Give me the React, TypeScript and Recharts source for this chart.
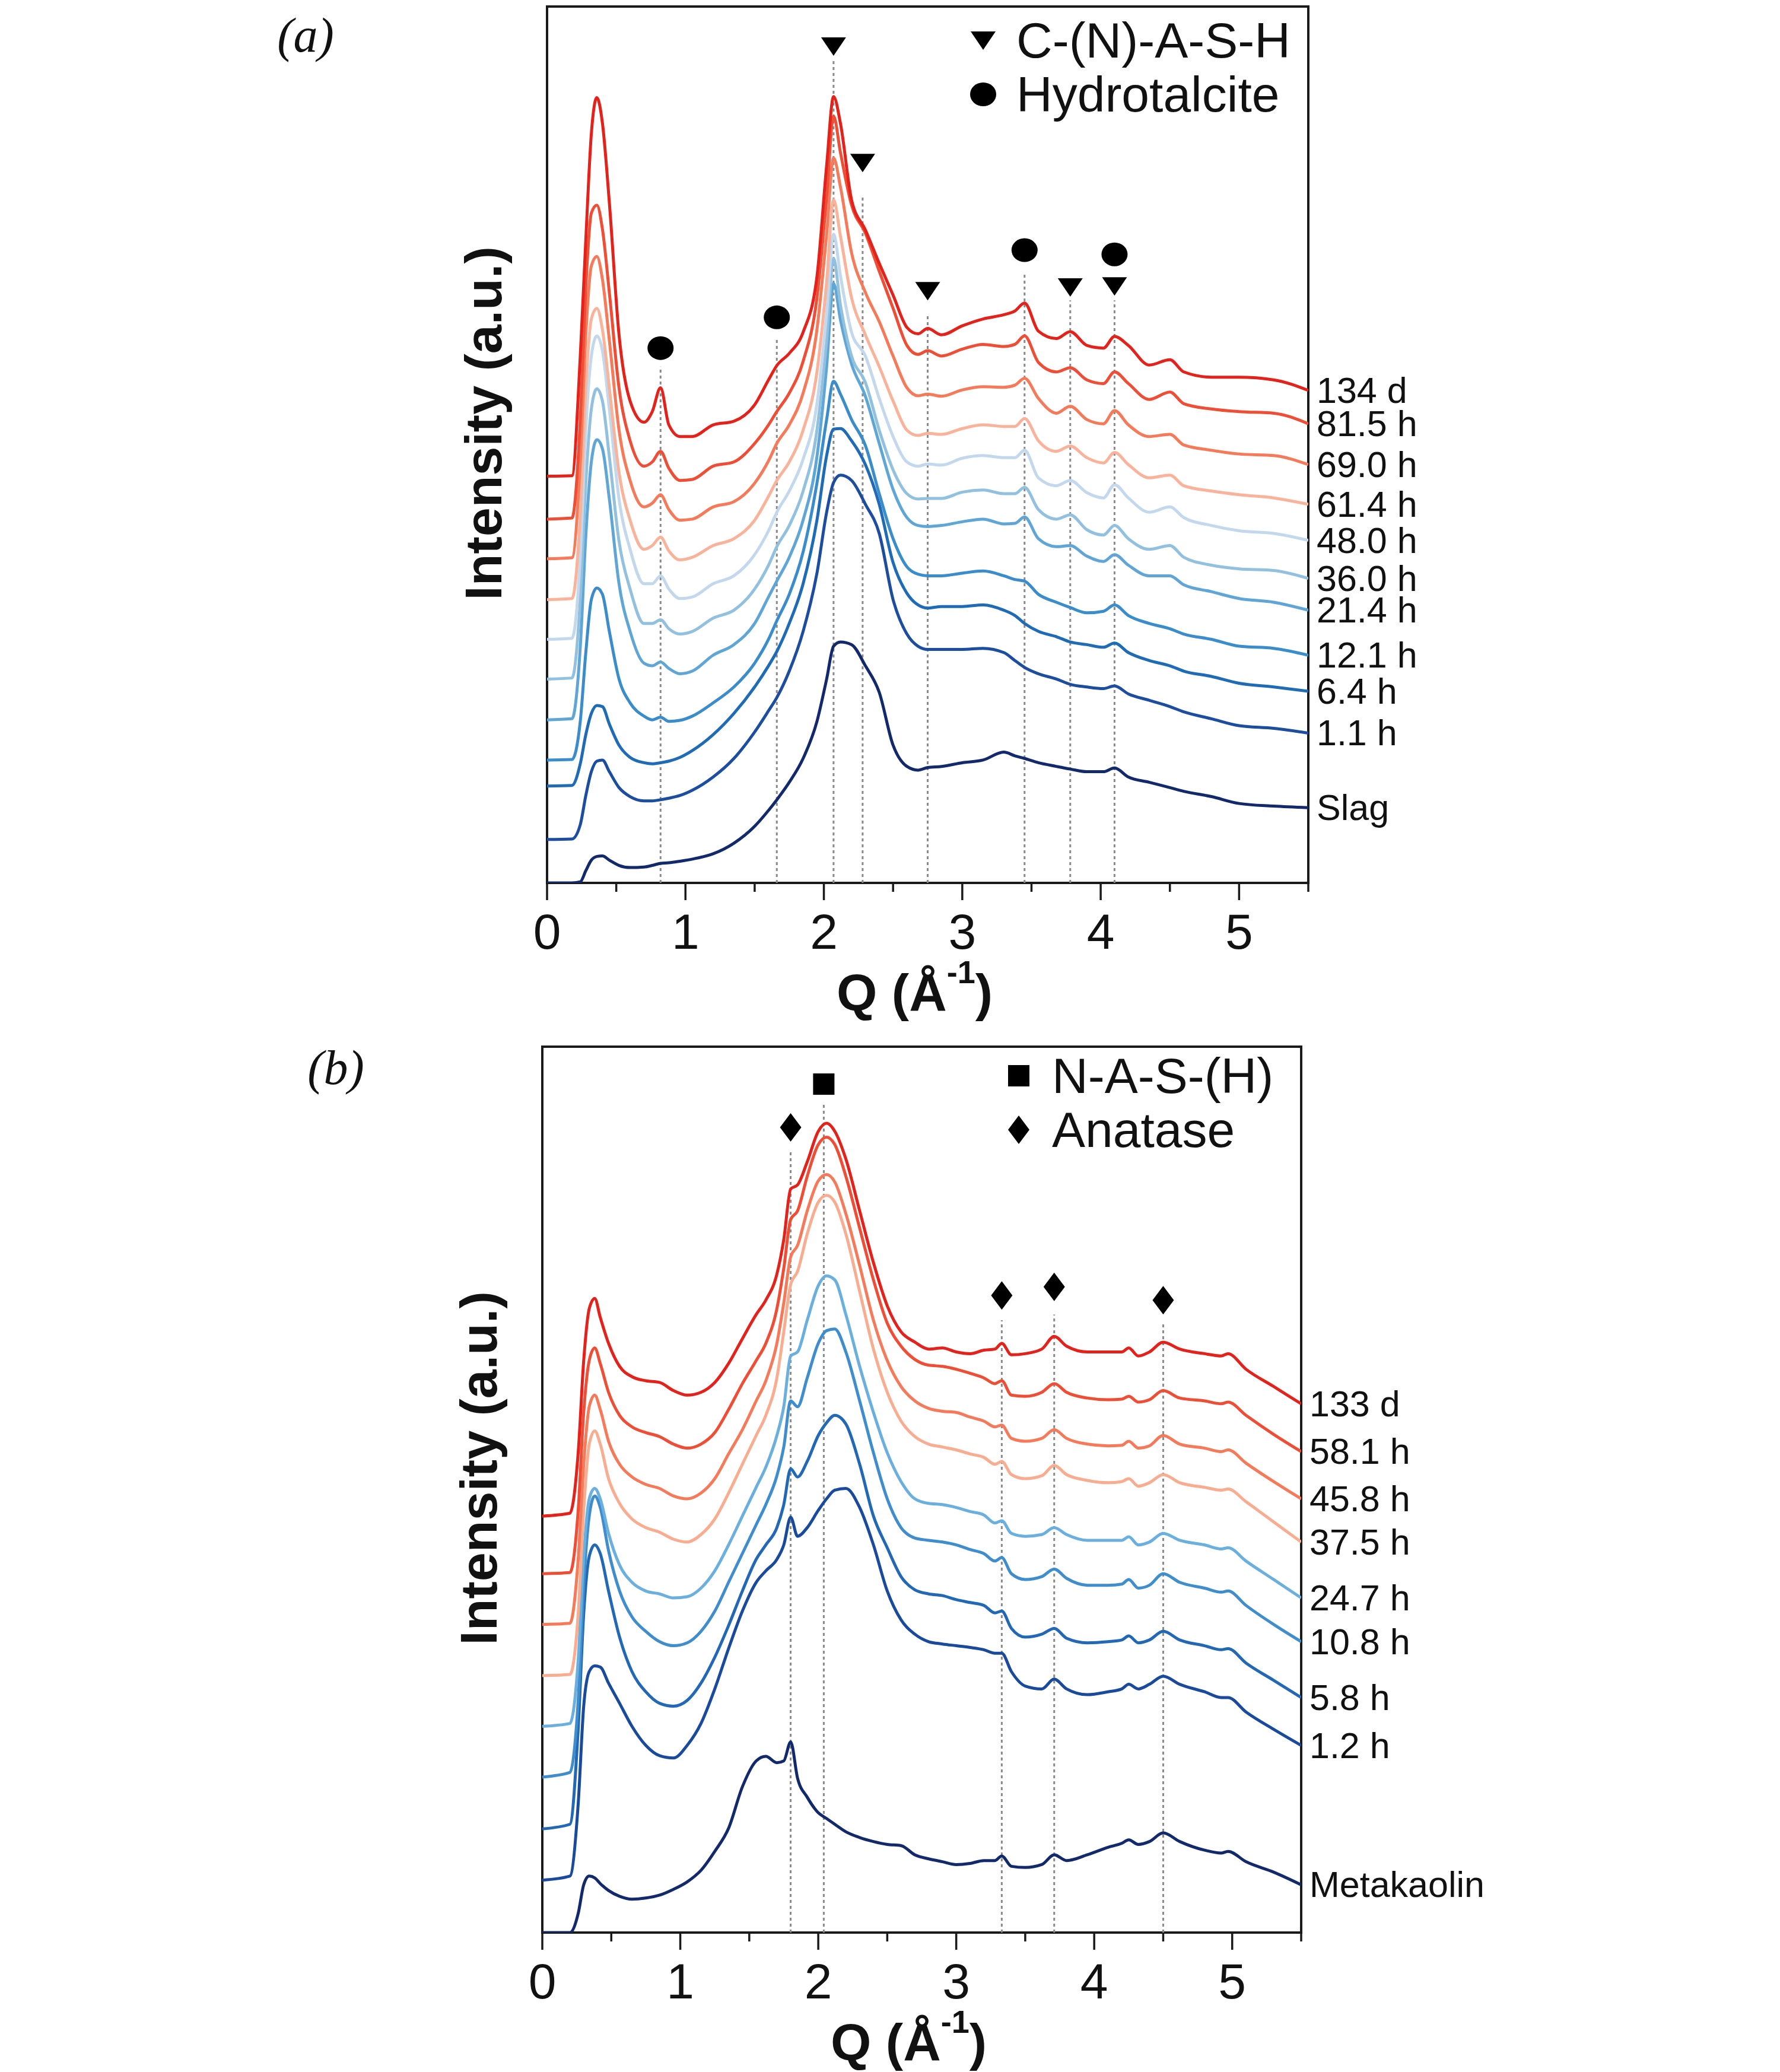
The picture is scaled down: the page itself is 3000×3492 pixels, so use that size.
import React from "react"
import { ComposedChart, Line, XAxis, YAxis, ReferenceLine, ReferenceDot, ReferenceArea, Legend } from "recharts"

const FONT = "'Liberation Sans', Arial, sans-serif"

// ---------- panel (a): slag ----------
const Q_A = [
  0, 0.18, 0.24, 0.28, 0.32, 0.36, 0.4, 0.45, 0.52, 0.6, 0.7, 0.76, 0.82, 0.88, 0.96, 1.05, 1.2, 1.35, 1.5, 1.6,
  1.66, 1.75, 1.85, 1.95, 2.02, 2.07, 2.12, 2.2, 2.3, 2.4, 2.5, 2.6, 2.68, 2.75, 2.85, 3.0, 3.15, 3.3, 3.38, 3.45,
  3.55, 3.68, 3.78, 3.9, 4.02, 4.1, 4.2, 4.35, 4.5, 4.6, 4.8, 5.0, 5.25, 5.5,
]
const A_134D = [
  768, 769, 995, 1215, 1415, 1483, 1435, 1285, 1035, 910, 870, 890, 935, 865, 843, 843, 865, 872, 903, 950,
  977, 1000, 1040, 1145, 1355, 1485, 1434, 1290, 1233, 1170, 1110, 1049, 1037, 1047, 1035, 1052, 1065, 1073, 1080, 1095,
  1042, 1028, 1041, 1015, 1010, 1032, 1015, 978, 988, 965, 955, 955, 950, 930,
]
const A_81H = [
  687, 689, 875, 1125, 1265, 1280, 1235, 1115, 935, 835, 787, 795, 815, 783, 760, 762, 787, 795, 830, 865,
  890, 925, 985, 1105, 1295, 1448, 1379, 1280, 1227, 1155, 1085, 1015, 998, 1005, 995, 1008, 1017, 1013, 1017, 1033,
  983, 965, 973, 950, 943, 965, 943, 913, 927, 905, 895, 890, 887, 867,
]
const A_69H = [
  612, 614, 795, 1035, 1165, 1183, 1140, 1025, 855, 760, 710, 717, 733, 705, 685, 687, 710, 720, 755, 797,
  830, 865, 925, 1045, 1225, 1369, 1314, 1190, 1115, 1060, 995, 935, 920, 923, 919, 931, 937, 936, 940, 953,
  915, 887, 900, 875, 867, 892, 865, 843, 847, 827, 817, 810, 807, 790,
]
const A_61H = [
  535, 537, 695, 935, 1065, 1085, 1045, 935, 775, 685, 630, 637, 653, 627, 610, 615, 637, 650, 685, 730,
  760, 795, 855, 965, 1135, 1290, 1221, 1105, 1035, 975, 910, 855, 845, 849, 847, 858, 865, 862, 862, 877,
  835, 815, 825, 803, 793, 813, 790, 765, 770, 750, 740, 733, 727, 715,
]
const A_48H = [
  460, 462, 615, 855, 995, 1033, 1005, 895, 725, 630, 565, 565, 580, 555, 537, 540, 565, 580, 620, 665,
  700, 740, 800, 905, 1075, 1225, 1146, 1040, 995, 915, 843, 795, 787, 791, 789, 802, 807, 803, 803, 817,
  765, 750, 760, 737, 727, 752, 727, 700, 710, 690, 675, 665, 660, 647,
]
const A_36H = [
  385, 387, 535, 755, 895, 933, 910, 805, 645, 555, 490, 490, 497, 480, 470, 475, 500, 515, 555, 600,
  635, 675, 740, 855, 1025, 1179, 1091, 995, 945, 855, 780, 735, 725, 726, 726, 738, 742, 735, 735, 747,
  705, 687, 695, 667, 657, 675, 650, 630, 637, 615, 600, 593, 590, 575,
]
const A_21H = [
  308, 310, 445, 655, 795, 837, 820, 725, 565, 475, 415, 410, 417, 405, 395, 400, 430, 450, 490, 540,
  570, 615, 685, 805, 975, 1132, 1063, 980, 919, 830, 743, 690, 675, 673, 675, 682, 687, 678, 679, 691,
  650, 635, 637, 617, 607, 620, 600, 580, 580, 563, 550, 537, 530, 515,
]
const A_12H = [
  232, 233, 305, 435, 535, 557, 545, 475, 385, 340, 315, 308, 313, 305, 307, 315, 340, 370, 415, 460,
  495, 545, 625, 755, 875, 947, 923, 875, 826, 735, 650, 597, 583, 580, 580, 585, 589, 580, 573, 570,
  545, 530, 520, 510, 513, 525, 505, 490, 480, 470, 460, 447, 443, 430,
]
const A_6H = [
  183, 184, 225, 280, 320, 335, 333, 300, 260, 237, 227, 225, 227, 230, 237, 250, 280, 320, 370, 410,
  437, 490, 565, 685, 807, 857, 858, 835, 790, 715, 605, 547, 525, 519, 522, 522, 525, 515, 505, 490,
  475, 465, 455, 450, 445, 453, 435, 420, 410, 400, 390, 377, 370, 362,
]
const A_1H = [
  82, 83, 110, 165, 210, 230, 232, 210, 180, 163, 155, 155, 157, 160, 165, 175, 200, 235, 285, 325,
  350, 400, 475, 585, 700, 756, 770, 760, 715, 660, 535, 470, 447, 441, 441, 441, 443, 435, 420, 407,
  395, 385, 375, 370, 367, 372, 357, 345, 333, 323, 310, 297, 292, 283,
]
const A_SLAG = [
  0, 0, 2, 23, 43, 50, 51, 43, 33, 29, 30, 33, 37, 38, 41, 45, 55, 75, 107, 137,
  157, 190, 235, 305, 385, 447, 455, 450, 410, 360, 260, 220, 213, 218, 220, 227, 232, 247, 240, 235,
  227, 220, 215, 210, 210, 217, 200, 190, 180, 173, 163, 150, 145, 142,
]

// ---------- panel (b): metakaolin ----------
const Q_B = [
  0, 0.2, 0.26, 0.3, 0.34, 0.38, 0.42, 0.48, 0.56, 0.65, 0.75, 0.85, 0.95, 1.05, 1.15, 1.25, 1.35, 1.45, 1.55, 1.62,
  1.7, 1.75, 1.8, 1.85, 1.92, 2.0, 2.06, 2.12, 2.2, 2.3, 2.4, 2.5, 2.6, 2.7, 2.8, 2.9, 3.0, 3.1, 3.2, 3.28,
  3.33, 3.4, 3.5, 3.62, 3.71, 3.8, 3.95, 4.1, 4.2, 4.25, 4.32, 4.4, 4.5, 4.62, 4.8, 4.92, 4.97, 5.1, 5.3, 5.5,
]
const B_133D = [
  723, 728, 833, 993, 1083, 1101, 1068, 1023, 983, 965, 958, 955, 941, 933, 938, 955, 988, 1031, 1073, 1098,
  1143, 1203, 1291, 1298, 1338, 1391, 1405, 1391, 1343, 1253, 1163, 1088, 1043, 1025, 1013, 1015, 1008, 1005, 1011, 1013,
  1023, 1003, 1005, 1013, 1035, 1018, 1008, 1008, 1008, 1015, 1001, 1008, 1025, 1013, 1005, 1001, 1005, 978, 948, 918,
]
const B_58H = [
  623, 625, 733, 903, 993, 1015, 988, 938, 898, 878, 868, 861, 848, 841, 848, 868, 908, 953, 993, 1023,
  1083, 1153, 1238, 1253, 1313, 1368, 1381, 1368, 1313, 1223, 1133, 1058, 1018, 995, 985, 983, 978, 971, 963, 953,
  958, 933, 931, 938, 953, 938, 928, 925, 926, 931, 921, 925, 941, 928, 923, 918, 921, 898, 865, 835,
]
const B_45H = [
  535, 537, 648, 813, 913, 933, 908, 853, 813, 791, 778, 771, 758, 753, 763, 788, 831, 873, 923, 958,
  1023, 1093, 1173, 1193, 1253, 1305, 1316, 1303, 1248, 1158, 1063, 993, 948, 923, 910, 905, 903, 895, 888, 878,
  881, 858, 853, 858, 873, 858, 848, 845, 846, 853, 841, 845, 863, 848, 841, 835, 838, 815, 783, 753,
]
const B_37H = [
  446, 448, 553, 733, 848, 871, 848, 788, 745, 718, 703, 695, 683, 678, 691, 718, 763, 813, 863, 898,
  963, 1043, 1125, 1148, 1213, 1268, 1280, 1268, 1213, 1113, 1013, 938, 888, 861, 848, 843, 838, 831, 825, 813,
  818, 795, 788, 793, 811, 795, 785, 781, 783, 788, 775, 781, 795, 781, 773, 768, 770, 748, 713, 678,
]
const B_24H = [
  358, 363, 473, 653, 753, 771, 753, 693, 638, 608, 593, 588, 581, 583, 598, 628, 673, 723, 773, 808,
  863, 913, 1001, 1008, 1063, 1123, 1140, 1133, 1073, 983, 903, 833, 783, 753, 745, 743, 738, 731, 725, 711,
  715, 693, 688, 691, 703, 691, 681, 681, 681, 687, 673, 678, 693, 681, 673, 666, 668, 645, 613, 581,
]
const B_10H = [
  270, 278, 403, 603, 723, 758, 738, 663, 593, 548, 523, 505, 498, 503, 523, 558, 608, 658, 708, 743,
  793, 843, 923, 913, 963, 1023, 1045, 1048, 1008, 923, 833, 753, 703, 685, 681, 678, 673, 665, 658, 645,
  651, 623, 613, 618, 631, 615, 603, 603, 605, 613, 598, 603, 623, 608, 598, 591, 593, 568, 535, 505,
]
const B_5H = [
  180, 188, 353, 553, 653, 673, 658, 593, 513, 453, 418, 398, 393, 403, 433, 478, 533, 593, 648, 673,
  703, 743, 805, 791, 818, 863, 885, 898, 883, 813, 723, 668, 618, 595, 588, 585, 578, 573, 568, 555,
  558, 528, 513, 518, 528, 511, 503, 505, 508, 515, 503, 508, 523, 508, 498, 491, 493, 468, 438, 408,
]
const B_1H = [
  91, 98, 223, 393, 453, 463, 461, 433, 398, 358, 325, 307, 303, 325, 363, 423, 493, 558, 608, 628,
  648, 673, 721, 688, 703, 733, 753, 768, 771, 738, 673, 593, 543, 518, 505, 501, 498, 495, 491, 485,
  485, 453, 428, 423, 440, 423, 413, 418, 423, 431, 423, 431, 445, 431, 418, 408, 408, 383, 353, 325,
]
const B_MK = [
  0, 0, 33, 83, 98, 95, 85, 73, 63, 58, 60, 65, 75, 88, 108, 141, 181, 253, 298, 306,
  295, 298, 331, 268, 235, 208, 198, 188, 175, 165, 158, 153, 151, 135, 128, 123, 118, 120, 125, 125,
  133, 115, 113, 118, 135, 125, 135, 148, 155, 161, 153, 158, 173, 158, 143, 138, 141, 123, 105, 83,
]

const LABELS_A = ["Slag", "1.1 h", "6.4 h", "12.1 h", "21.4 h", "36.0 h", "48.0 h", "61.4 h", "69.0 h", "81.5 h", "134 d"]
const VALUES_A = [A_SLAG, A_1H, A_6H, A_12H, A_21H, A_36H, A_48H, A_61H, A_69H, A_81H, A_134D]
const COLORS_A = ["#12296b", "#1c4d9e", "#1f6bb5", "#3b8ccb", "#5fa5d6", "#92c0df", "#c3d8ec", "#f9b39a", "#f57a5a", "#ef4e36", "#e3221b"]

const LABELS_B = ["Metakaolin", "1.2 h", "5.8 h", "10.8 h", "24.7 h", "37.5 h", "45.8 h", "58.1 h", "133 d"]
const VALUES_B = [B_MK, B_1H, B_5H, B_10H, B_24H, B_37H, B_45H, B_58H, B_133D]
const COLORS_B = ["#12296b", "#1a4a9c", "#2368b4", "#3f8dcc", "#6aafde", "#f9ad90", "#f57a5a", "#ef4e36", "#e3221b"]

// reflection positions (Q) and the marker heights above them
const GUIDES_A = [
  { q: 0.82, top: 975 }, { q: 1.66, top: 1030 }, { q: 2.07, top: 1555 }, { q: 2.28, top: 1295 },
  { q: 2.75, top: 1075 }, { q: 3.45, top: 1150 }, { q: 3.78, top: 1100 }, { q: 4.1, top: 1100 },
]
const MARKS_A = [
  { q: 0.82, level: 1010, kind: "circle" }, { q: 1.66, level: 1068, kind: "circle" },
  { q: 2.07, level: 1580, kind: "tri" }, { q: 2.28, level: 1360, kind: "tri" },
  { q: 2.75, level: 1118, kind: "tri" }, { q: 3.45, level: 1195, kind: "circle" },
  { q: 3.78, level: 1125, kind: "tri" }, { q: 4.1, level: 1187, kind: "circle" }, { q: 4.1, level: 1127, kind: "tri" },
]
const GUIDES_B = [
  { q: 1.8, top: 1358 }, { q: 2.04, top: 1438 }, { q: 3.33, top: 1063 }, { q: 3.71, top: 1073 }, { q: 4.5, top: 1058 },
]
const MARKS_B = [
  { q: 1.8, level: 1398, kind: "diamond" }, { q: 2.04, level: 1473, kind: "square" },
  { q: 3.33, level: 1106, kind: "diamond" }, { q: 3.71, level: 1121, kind: "diamond" }, { q: 4.5, level: 1098, kind: "diamond" },
]
const LEGEND_A = [{ kind: "tri", text: "C-(N)-A-S-H" }, { kind: "circle", text: "Hydrotalcite" }]
const LEGEND_B = [{ kind: "square", text: "N-A-S-(H)" }, { kind: "diamond", text: "Anatase" }]

const Q_TICKS = [0, 0.5, 1, 1.5, 2, 2.5, 3, 3.5, 4, 4.5, 5, 5.5]

const Mark = ({ kind, cx, cy }: { kind: string; cx: number; cy: number }) => {
  if (kind === "tri") return <polygon points={`${cx - 21},${cy - 15} ${cx + 21},${cy - 15} ${cx},${cy + 16}`} fill="#000" />
  if (kind === "circle") return <ellipse cx={cx} cy={cy} rx={22} ry={20} fill="#000" />
  if (kind === "square") return <rect x={cx - 18} y={cy - 18} width={36} height={36} fill="#000" />
  return <polygon points={`${cx},${cy - 24} ${cx + 18},${cy} ${cx},${cy + 24} ${cx - 18},${cy}`} fill="#000" />
}

const QTick = (props: any) => {
  const { x, y, payload } = props
  const v = payload.value
  const major = Math.abs(v - Math.round(v)) < 1e-6
  return (
    <g>
      <line x1={x} x2={x} y1={y} y2={y + (major ? 29 : 15)} stroke="#1a1a1a" strokeWidth={3.5} />
      {major && v <= 5 && (
        <text x={x} y={y + 82} textAnchor="middle" dominantBaseline="central" fontSize={84} fill="#111" fontFamily={FONT}>
          {v}
        </text>
      )}
    </g>
  )
}

const XTitle = (props: any) => {
  const vb = props.viewBox
  return (
    <text x={vb.x + vb.width / 2 - 22} y={vb.y + 184} textAnchor="middle" dominantBaseline="central" fontSize={88} fontWeight="bold" fill="#111" fontFamily={FONT}>
      Q (Å<tspan fontSize={54} dy={-34}>-1</tspan>
      <tspan dy={34}>)</tspan>
    </text>
  )
}

const YTitle = (props: any) => {
  const vb = props.viewBox
  const cx = vb.x + vb.width - 108
  const cy = vb.y + vb.height / 2 - 36
  return (
    <text x={cx} y={cy} transform={`rotate(-90, ${cx}, ${cy})`} textAnchor="middle" dominantBaseline="central" fontSize={88} fontWeight="bold" fill="#111" fontFamily={FONT}>
      Intensity (a.u.)
    </text>
  )
}

interface PanelProps {
  top: number
  height: number
  margin: { top: number; right: number; bottom: number; left: number }
  yMax: number
  grid: number[]
  labels: string[]
  values: number[][]
  colors: string[]
  guides: { q: number; top: number }[]
  marks: { q: number; level: number; kind: string }[]
  legend: { kind: string; text: string }[]
  legendBox: { left: number; top: number }
}

const Panel = ({ top, height, margin, yMax, grid, labels, values, colors, guides, marks, legend, legendBox }: PanelProps) => {
  const rows = grid.map((q, i) => {
    const row: Record<string, number> = { q }
    values.forEach((v, k) => (row[`s${k}`] = v[i]))
    return row
  })
  const last = grid.length - 1

  return (
    <div style={{ position: "absolute", left: 0, top }}>
      <ComposedChart width={3000} height={height} data={rows} margin={margin}>
        <XAxis
          type="number"
          dataKey="q"
          domain={[0, 5.5]}
          ticks={Q_TICKS}
          interval={0}
          tick={<QTick />}
          tickLine={false}
          axisLine={false}
          tickSize={0}
          tickMargin={0}
          height={200}
          allowDataOverflow
          label={{ content: XTitle }}
        />
        <YAxis type="number" domain={[0, yMax]} width={160} tick={false} tickLine={false} axisLine={false} allowDataOverflow label={{ content: YTitle }} />
        {guides.map((g) => (
          <ReferenceLine
            key={`g${g.q}`}
            segment={[{ x: g.q, y: 0 }, { x: g.q, y: g.top }]}
            stroke="#8a8a8a"
            strokeWidth={3}
            strokeDasharray="5 5"
          />
        ))}
        {values.map((_, k) => (
          <Line
            key={labels[k]}
            dataKey={`s${k}`}
            type="monotone"
            stroke={colors[k]}
            strokeWidth={5}
            dot={false}
            isAnimationActive={false}
            label={(p: any) =>
              p.index === last ? (
                <text key={`l${k}`} x={p.x + 14} y={p.y} dominantBaseline="central" fontSize={61} fill="#111" fontFamily={FONT}>
                  {labels[k]}
                </text>
              ) : (
                <g key={`l${k}-${p.index}`} />
              )
            }
          />
        ))}
        {marks.map((m, i) => (
          <ReferenceDot key={`m${i}`} x={m.q} y={m.level} r={20} ifOverflow="visible" shape={(p: any) => <Mark kind={m.kind} cx={p.cx} cy={p.cy} />} />
        ))}
        <ReferenceArea x1={0} x2={5.5} y1={0} y2={yMax} fill="none" stroke="#1a1a1a" strokeWidth={4} ifOverflow="visible" />
        <Legend
          layout="vertical"
          align="center"
          verticalAlign="middle"
          wrapperStyle={{ left: legendBox.left, top: legendBox.top, width: 620, height: 200 }}
          content={() => (
            <svg width={620} height={200}>
              {legend.map((item, i) => (
                <g key={item.text}>
                  <Mark kind={item.kind} cx={47} cy={60 + i * 91} />
                  <text x={103} y={60 + i * 91} dominantBaseline="central" fontSize={84} fill="#111" fontFamily={FONT}>
                    {item.text}
                  </text>
                </g>
              ))}
            </svg>
          )}
        />
      </ComposedChart>
    </div>
  )
}

const letterStyle: React.CSSProperties = {
  position: "absolute",
  fontFamily: "'Liberation Serif', 'Times New Roman', serif",
  fontStyle: "italic",
  fontSize: 82,
  lineHeight: "82px",
  transform: "translate(-50%, -50%)",
  color: "#111",
}

export default function App() {
  return (
    <div style={{ position: "absolute", left: 0, top: 0, width: 3000, height: 3492, background: "#fff", overflow: "hidden" }}>
      <Panel
        top={0}
        height={1740}
        margin={{ top: 11, right: 795, bottom: 52, left: 762 }}
        yMax={1655}
        grid={Q_A}
        labels={LABELS_A}
        values={VALUES_A}
        colors={COLORS_A}
        guides={GUIDES_A}
        marks={MARKS_A}
        legend={LEGEND_A}
        legendBox={{ left: 1610, top: 8 }}
      />
      <Panel
        top={1740}
        height={1752}
        margin={{ top: 24, right: 807, bottom: 35, left: 754 }}
        yMax={1538}
        grid={Q_B}
        labels={LABELS_B}
        values={VALUES_B}
        colors={COLORS_B}
        guides={GUIDES_B}
        marks={MARKS_B}
        legend={LEGEND_B}
        legendBox={{ left: 1670, top: 13 }}
      />
      <div style={{ ...letterStyle, left: 515, top: 60 }}>(a)</div>
      <div style={{ ...letterStyle, left: 566, top: 1800 }}>(b)</div>
    </div>
  )
}
